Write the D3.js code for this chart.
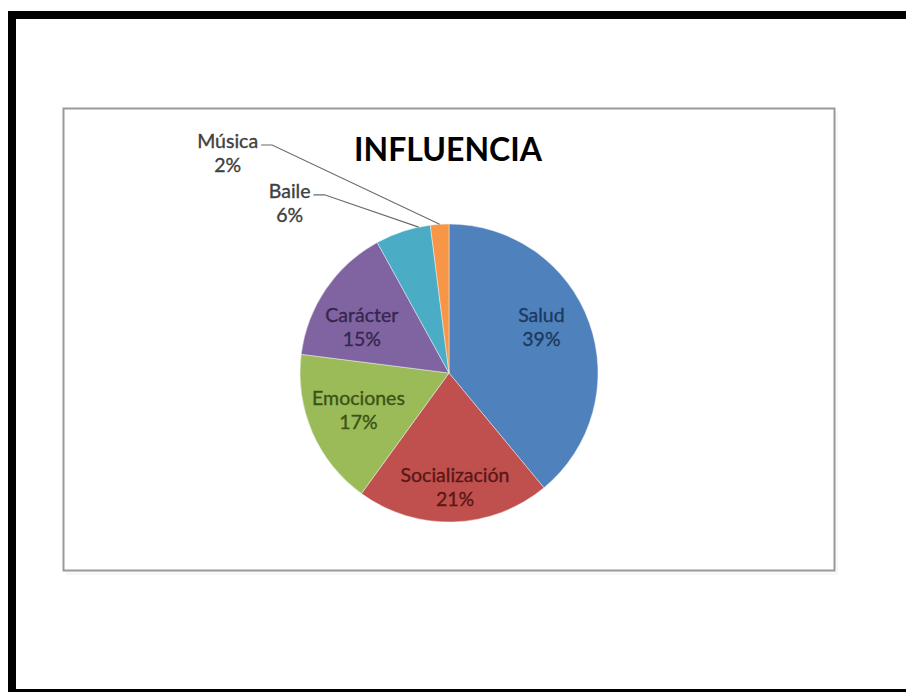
<!DOCTYPE html>
<html>
<head>
<meta charset="utf-8">
<script src="https://cdn.jsdelivr.net/npm/d3@7"></script>
<style>
  html, body { margin: 0; padding: 0; background: #fff; }
  svg { display: block; }
</style>
</head>
<body>
<svg id="chart" width="906" height="692"></svg>
<script>
// Chart data
const title = "INFLUENCIA";
const categories = ["Salud", "Socialización", "Emociones", "Carácter", "Baile", "Música"];
const values = [39, 21, 17, 15, 6, 2];

// Styling
const sliceColors = ["#4F81BD", "#C0504D", "#9BBB59", "#8064A2", "#4BACC6", "#F79646"];
const labelColors = ["#1C3A60", "#5A1716", "#3B5216", "#37264F", "#404040", "#404040"];

// Label layout: inside labels sit at a polar spot (degrees clockwise from top, fraction of radius);
// outside labels get the same plus a leader line to a point on the slice edge.
const labelPolar = [[64, 0.69], [177, 0.77], [247, 0.66], [297.5, 0.66], [316.7, 1.56], [314.7, 2.09]];
const outside = [false, false, false, false, true, true];
const leaderFrac = [0, 0, 0, 0, 0.79, 0.5];

const W = 906, H = 692;
const svg = d3.select("#chart");
const font = "Lato, 'Open Sans', sans-serif";

// Outer black frame (right edge cropped)
svg.append("rect").attr("x", 0).attr("y", 0).attr("width", W).attr("height", H).attr("fill", "#fff");
svg.append("path")
  .attr("d", `M12,${H + 10} L12,15 L${W + 10},15`)
  .attr("fill", "none").attr("stroke", "#000").attr("stroke-width", 8);
svg.append("rect").attr("x", 8).attr("y", 689).attr("width", W).attr("height", 10).attr("fill", "#000");

// Chart area with a soft shadow
svg.append("rect").attr("x", 66).attr("y", 112).attr("width", 772).attr("height", 463)
  .attr("fill", "#f4f4f4").attr("opacity", 0.6);
svg.append("rect").attr("x", 63.5).attr("y", 108.5).attr("width", 771).attr("height", 462)
  .attr("fill", "#fff").attr("stroke", "#999").attr("stroke-width", 2);

// Title
svg.append("text")
  .attr("x", 448).attr("y", 161)
  .attr("text-anchor", "middle")
  .attr("font-family", font).attr("font-weight", 700).attr("font-size", 32)
  .attr("fill", "#000")
  .text(title);

// Pie
const cx = 449, cy = 373, R = 149;
const g = svg.append("g").attr("transform", `translate(${cx},${cy})`);
const pie = d3.pie().sort(null).value(d => d)(values);
const arc = d3.arc().innerRadius(0).outerRadius(R);

g.selectAll("path.slice")
  .data(pie)
  .join("path")
  .attr("class", "slice")
  .attr("d", arc)
  .attr("fill", (d, i) => sliceColors[i])
  .attr("stroke", "#eeeeee")
  .attr("stroke-width", 0.5);

const toXY = (deg, r) => {
  const a = deg * Math.PI / 180;
  return [r * Math.sin(a), -r * Math.cos(a)];
};

const fs = 19.5, lh = 24;
pie.forEach((d, i) => {
  const [ang, frac] = labelPolar[i];
  const [lx, ly] = toXY(ang, frac * R);
  const pct = Math.round(d.value / d3.sum(values) * 100) + "%";
  const t = g.append("text")
    .attr("text-anchor", "middle")
    .attr("font-family", font).attr("font-size", fs)
    .attr("fill", labelColors[i])
    .attr("stroke", labelColors[i]).attr("stroke-width", 0.35);
  t.append("tspan").attr("x", lx).attr("y", ly - lh / 2 + 6).text(categories[i]);
  t.append("tspan").attr("x", lx).attr("y", ly + lh / 2 + 6).text(pct);

  if (outside[i]) {
    const w = t.select("tspan").node().getComputedTextLength();
    const sx = lx + w / 2 + 3, sy = ly - lh / 2 + 3;
    const edgeAng = d.startAngle + (d.endAngle - d.startAngle) * leaderFrac[i];
    const ex = R * Math.sin(edgeAng), ey = -R * Math.cos(edgeAng);
    g.append("path")
      .attr("d", `M${sx},${sy} L${sx + 11},${sy} L${ex},${ey}`)
      .attr("fill", "none").attr("stroke", "#6b6b6b").attr("stroke-width", 1.1);
  }
});
</script>
</body>
</html>
